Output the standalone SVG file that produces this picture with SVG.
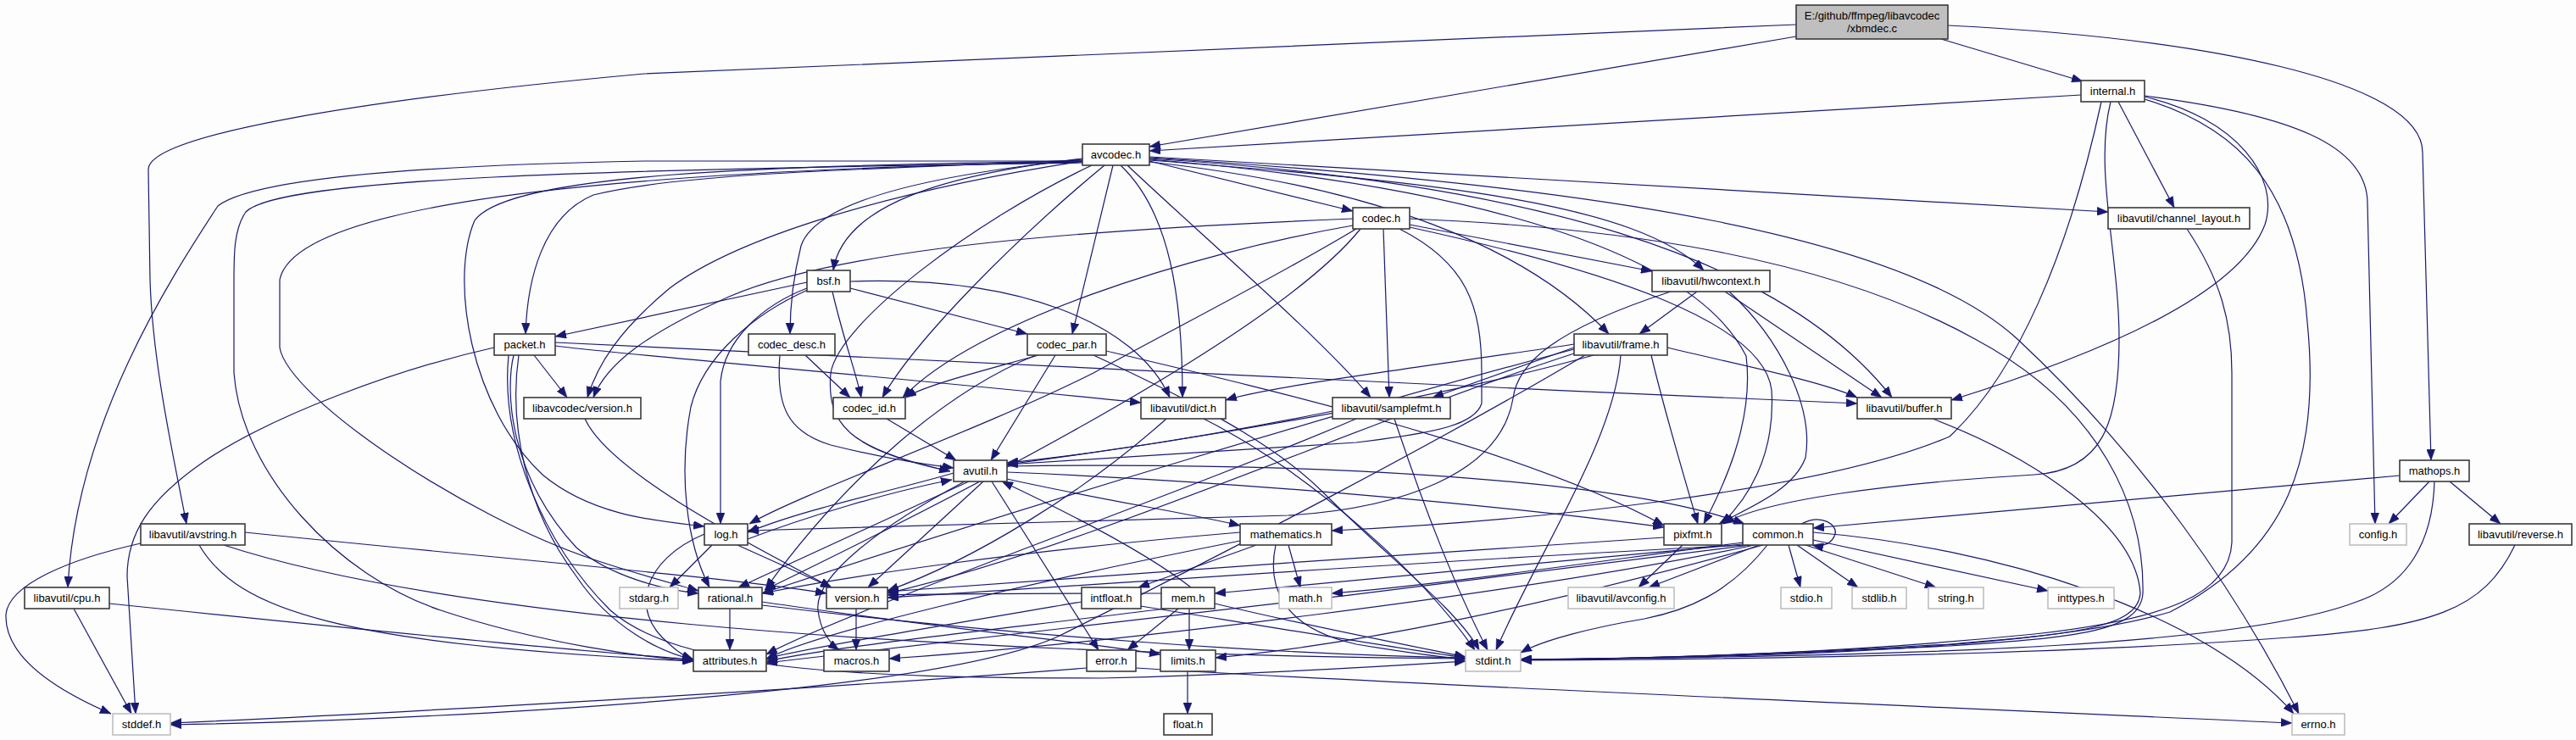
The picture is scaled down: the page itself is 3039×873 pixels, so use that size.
<svg xmlns="http://www.w3.org/2000/svg" width="3039" height="873" viewBox="0 0 3039 873">
<style>
.bg{fill:#fcfdfc}
.n rect{fill:#ffffff;stroke:#3a3a3a;stroke-width:1.6}
.g rect{fill:#ffffff;stroke:#bfbfbf;stroke-width:1.6}
.r rect{fill:#bfbfbf;stroke:#3a3a3a;stroke-width:1.6}
text{font-family:"Liberation Sans",Arial,sans-serif;font-size:13px;fill:#000;text-anchor:middle}
#edges path{fill:none;stroke:#191970;stroke-width:1.2;marker-end:url(#ah)}
</style>
<defs>
<marker id="ah" viewBox="0 0 13 10" refX="13" refY="5" markerWidth="13" markerHeight="10" markerUnits="userSpaceOnUse" orient="auto">
<path d="M0,0 L13,5 L0,10 z" fill="#191970" stroke="#191970" stroke-width="0.5"/>
</marker>
</defs>
<rect class="bg" x="0" y="0" width="3039" height="873"/>
<g id="edges">
<path d="M2119,43 L1356,173"/>
<path d="M2290,46 L2457,96"/>
<path d="M2298,30 C2600,45 2858,95 2858,180 L2868,543"/>
<path d="M2119,29 L760,87 C420,118 175,160 175,200 L177,330 C180,430 205,540 220,618"/>
<path d="M2455,112 L1356,178"/>
<path d="M2499,120 L2565,245"/>
<path d="M2530,113 C2700,135 2793,170 2793,240 L2802,618"/>
<path d="M2530,114 C2640,140 2690,210 2672,265 C2640,350 2470,420 2302,472"/>
<path d="M2530,117 C2640,150 2710,220 2722,380 C2738,540 2700,650 2560,722 C2400,770 2000,777 1794,778"/>
<path d="M2490,120 C2470,200 2500,300 2500,400 C2500,500 2480,555 2400,560 C2230,570 2080,590 2033,618"/>
<path d="M2479,120 C2440,300 2380,440 2300,515 C2150,580 1800,615 1571,626"/>
<path d="M2866,568 L2818,618"/>
<path d="M2890,568 L2950,618"/>
<path d="M2831,561 L2139,623"/>
<path d="M2872,568 C2870,640 2840,690 2780,710 C2650,760 2300,774 1794,778"/>
<path d="M2967,643 C2930,720 2870,740 2700,752 C2400,775 2000,778 1794,779"/>
<path d="M2580,270 C2620,330 2633,380 2633,440 L2633,640 C2630,700 2560,730 2400,748 C2200,768 2000,777 1794,778"/>
<path d="M2280,494 C2400,540 2520,620 2525,700 C2522,740 2450,748 2300,760 C2100,772 1900,778 1794,778"/>
<path d="M2035,344 L2220,469"/>
<path d="M2002,344 L1934,394"/>
<path d="M2040,344 C2100,400 2140,480 2130,540 C2115,580 2060,600 2028,618"/>
<path d="M1971,344 C1830,390 1790,430 1785,470 C1770,560 1650,600 1520,608 L882,626"/>
<path d="M1663,265 L1949,320"/>
<path d="M1632,270 L1639,469"/>
<path d="M1651,270 C1730,310 1748,360 1748,440 L1748,476 C1740,500 1700,510 1600,522 L1188,548"/>
<path d="M1663,258 C1900,268 2150,300 2330,400 C2480,480 2530,600 2528,700 C2525,745 2450,752 2300,762 C2100,772 1900,778 1794,778"/>
<path d="M1356,186 C1900,220 2250,280 2380,400 C2530,540 2640,700 2712,842"/>
<path d="M1596,258 C1300,270 1000,290 860,350 C760,395 715,430 700,469"/>
<path d="M1596,266 C1400,300 1150,380 1065,469"/>
<path d="M1600,270 C1500,330 1380,390 1290,440 C1150,510 950,580 884,618"/>
<path d="M1605,270 C1500,400 1100,600 902,696"/>
<path d="M1663,268 C1900,320 2080,380 2090,460 C2095,540 2060,590 2031,618"/>
<path d="M952,333 L655,397"/>
<path d="M1003,340 L1212,394"/>
<path d="M982,344 C995,400 1010,440 1016,469"/>
<path d="M1003,332 C1200,325 1340,380 1380,469"/>
<path d="M952,340 C900,360 855,400 850,450 L850,618"/>
<path d="M953,342 C890,370 830,420 815,480 C800,560 810,640 837,693"/>
<path d="M630,419 L669,469"/>
<path d="M655,408 C700,415 1000,440 1346,475"/>
<path d="M655,404 C900,420 1600,450 2191,476"/>
<path d="M583,410 C470,435 320,490 240,545 C175,590 150,630 150,680 L160,842"/>
<path d="M606,419 C596,460 600,560 680,646 C720,680 780,695 824,700"/>
<path d="M612,419 C600,500 620,600 680,680 C720,740 780,770 818,778"/>
<path d="M600,419 C590,520 640,640 720,720 C800,790 1000,800 1300,800 C1500,795 1650,785 1729,780"/>
<path d="M950,419 L1003,469"/>
<path d="M920,419 C915,480 930,510 980,525 C1040,540 1090,548 1125,552"/>
<path d="M1225,419 C1150,440 1090,455 1068,469"/>
<path d="M1245,419 L1169,543"/>
<path d="M1222,419 C1120,460 1000,560 903,695"/>
<path d="M1305,414 C1500,460 1800,530 1963,620"/>
<path d="M1290,419 C1400,470 1500,520 1560,580 C1640,660 1720,720 1745,767"/>
<path d="M1356,190 L1596,249"/>
<path d="M1277,187 C1120,205 995,240 983,319"/>
<path d="M1277,188 C1060,210 960,245 945,290 C935,330 932,360 932,394"/>
<path d="M1313,195 L1265,394"/>
<path d="M1277,189 C1000,200 800,205 700,230 C640,255 622,330 620,394"/>
<path d="M1277,190 C1050,225 870,280 790,340 C730,390 705,430 693,469"/>
<path d="M1303,195 C1200,280 1080,400 1041,469"/>
<path d="M1322,195 C1380,250 1395,350 1395,469"/>
<path d="M1330,195 C1420,280 1560,400 1617,469"/>
<path d="M1356,185 L2487,250"/>
<path d="M1356,189 C1700,215 1930,240 2010,319"/>
<path d="M1356,191 C1620,220 1800,290 1898,394"/>
<path d="M1356,187 C1800,215 2100,300 2232,469"/>
<path d="M1356,188 C1750,220 2000,300 2060,420 C2070,500 2030,580 2010,618"/>
<path d="M1288,195 C1150,260 990,380 980,440 C975,500 1000,530 1121,556"/>
<path d="M1277,190 C900,195 600,205 560,260 C530,330 555,480 640,560 C700,610 780,615 831,621"/>
<path d="M1277,191 C800,200 350,230 330,330 L330,410 C340,470 550,610 700,660 C760,680 800,690 824,697"/>
<path d="M1277,192 C700,200 330,210 290,250 C276,270 276,300 276,330 L276,440 C285,560 400,680 520,720 C640,760 760,775 818,780"/>
<path d="M1277,190 L760,190 C500,195 300,210 257,243 C200,330 90,500 80,693"/>
<path d="M1967,410 C2050,430 2150,450 2191,469"/>
<path d="M1857,410 L1690,469"/>
<path d="M1857,406 C1700,430 1500,455 1446,472"/>
<path d="M1880,419 C1700,470 1400,520 1188,548"/>
<path d="M1948,419 C1960,470 1980,540 2003,618"/>
<path d="M1912,419 C1905,520 1810,660 1765,767"/>
<path d="M1870,419 C1700,520 1450,650 1250,750 C1100,820 500,850 201,855"/>
<path d="M1857,412 C1600,480 1200,600 899,700"/>
<path d="M1860,416 C1600,500 1300,640 1047,700"/>
<path d="M1376,494 C1280,580 1150,660 1047,697"/>
<path d="M1420,494 C1550,560 1680,680 1740,767"/>
<path d="M1572,485 C1450,510 1300,535 1188,546"/>
<path d="M1600,494 C1400,580 1000,720 904,772"/>
<path d="M1645,494 C1680,600 1720,700 1755,767"/>
<path d="M1125,558 C1050,580 950,600 882,628"/>
<path d="M1188,565 C1300,590 1400,605 1463,620"/>
<path d="M1188,557 C1500,570 1800,600 1963,622"/>
<path d="M1188,550 C1500,545 1900,560 2058,618"/>
<path d="M1170,568 L1296,767"/>
<path d="M1143,568 L871,693"/>
<path d="M1160,568 L1024,693"/>
<path d="M1138,568 C1040,620 960,680 965,720 C968,745 980,760 990,767"/>
<path d="M840,643 L790,693"/>
<path d="M870,643 L981,693"/>
<path d="M882,636 C950,610 1050,580 1123,566"/>
<path d="M831,630 C760,660 740,720 790,760 C800,770 810,775 818,778"/>
<path d="M1520,643 L1534,693"/>
<path d="M1482,643 L1343,693"/>
<path d="M1463,628 C1200,650 1000,680 899,700"/>
<path d="M1463,638 C1200,690 950,750 904,778"/>
<path d="M1505,643 C1495,690 1510,740 1600,760 C1660,770 1700,775 1729,778"/>
<path d="M1985,643 L1933,693"/>
<path d="M1963,634 C1700,650 1300,680 1047,698"/>
<path d="M2125,618 C2150,605 2168,620 2165,630 C2162,640 2152,646 2138,643"/>
<path d="M2075,643 L1945,693"/>
<path d="M2110,643 L2124,693"/>
<path d="M2120,643 L2192,693"/>
<path d="M2130,643 L2284,693"/>
<path d="M2139,637 L2416,697"/>
<path d="M2139,628 C2350,645 2600,720 2706,842"/>
<path d="M2056,640 C1900,660 1700,690 1571,700"/>
<path d="M2056,642 C1800,665 1550,690 1433,700"/>
<path d="M2060,643 C1700,660 1300,690 1047,705"/>
<path d="M2065,643 C1700,690 1200,750 904,782"/>
<path d="M2070,643 C1800,700 1300,760 1049,777"/>
<path d="M2080,643 C1800,720 1600,760 1434,776"/>
<path d="M2085,643 C2040,700 1990,720 1940,730 C1880,740 1820,755 1794,770"/>
<path d="M1405,693 C1350,650 1250,600 1182,568"/>
<path d="M1390,718 L1330,767"/>
<path d="M1403,718 L1403,767"/>
<path d="M1433,712 C1550,740 1680,765 1729,775"/>
<path d="M1375,718 C1200,740 1000,760 904,780"/>
<path d="M1370,700 C1250,700 1100,700 1047,702"/>
<path d="M861,718 L861,767"/>
<path d="M899,710 C1100,740 1300,760 1369,772"/>
<path d="M899,714 C1200,750 1500,772 1729,776"/>
<path d="M1276,710 C1100,740 950,765 904,777"/>
<path d="M1346,715 C1500,740 1650,765 1729,776"/>
<path d="M1010,718 L1010,767"/>
<path d="M690,494 C720,560 900,650 981,693"/>
<path d="M1282,788 C1000,810 500,840 201,853"/>
<path d="M1340,788 C1600,805 2300,835 2704,853"/>
<path d="M1401,792 L1401,842"/>
<path d="M166,641 C80,660 10,690 7,725 C5,780 80,820 131,842"/>
<path d="M235,643 C280,720 400,760 818,780"/>
<path d="M264,643 C500,720 1000,770 1729,777"/>
<path d="M289,628 C600,660 850,680 975,700"/>
<path d="M87,718 L155,842"/>
<path d="M129,712 C400,740 700,770 818,778"/>
<path d="M1046,494 L1128,543"/>
</g>
<g id="node_xbmdec" class="r"><rect x="2119" y="6" width="179" height="40"/><text x="2208.5" y="23">E:/github/ffmpeg/libavcodec</text><text x="2208.5" y="38">/xbmdec.c</text></g>
<g id="node_internal" class="n"><rect x="2455" y="95" width="75" height="25"/><text x="2492.5" y="112">internal.h</text></g>
<g id="node_avcodec" class="n"><rect x="1277" y="170" width="79" height="25"/><text x="1316.5" y="187">avcodec.h</text></g>
<g id="node_codec" class="n"><rect x="1596" y="245" width="67" height="25"/><text x="1629.5" y="262">codec.h</text></g>
<g id="node_channel_layout" class="n"><rect x="2487" y="245" width="167" height="25"/><text x="2570.5" y="262">libavutil/channel_layout.h</text></g>
<g id="node_bsf" class="n"><rect x="952" y="319" width="51" height="25"/><text x="977.5" y="336">bsf.h</text></g>
<g id="node_hwcontext" class="n"><rect x="1949" y="319" width="139" height="25"/><text x="2018.5" y="336">libavutil/hwcontext.h</text></g>
<g id="node_packet" class="n"><rect x="583" y="394" width="72" height="25"/><text x="619" y="411">packet.h</text></g>
<g id="node_codec_desc" class="n"><rect x="883" y="394" width="102" height="25"/><text x="934" y="411">codec_desc.h</text></g>
<g id="node_codec_par" class="n"><rect x="1212" y="394" width="93" height="25"/><text x="1258.5" y="411">codec_par.h</text></g>
<g id="node_frame" class="n"><rect x="1857" y="394" width="110" height="25"/><text x="1912" y="411">libavutil/frame.h</text></g>
<g id="node_lavc_version" class="n"><rect x="618" y="469" width="138" height="25"/><text x="687" y="486">libavcodec/version.h</text></g>
<g id="node_codec_id" class="n"><rect x="983" y="469" width="85" height="25"/><text x="1025.5" y="486">codec_id.h</text></g>
<g id="node_dict" class="n"><rect x="1346" y="469" width="100" height="25"/><text x="1396" y="486">libavutil/dict.h</text></g>
<g id="node_samplefmt" class="n"><rect x="1572" y="469" width="139" height="25"/><text x="1641.5" y="486">libavutil/samplefmt.h</text></g>
<g id="node_buffer" class="n"><rect x="2191" y="469" width="111" height="25"/><text x="2246.5" y="486">libavutil/buffer.h</text></g>
<g id="node_avutil" class="n"><rect x="1125" y="543" width="63" height="25"/><text x="1156.5" y="560">avutil.h</text></g>
<g id="node_mathops" class="n"><rect x="2831" y="543" width="82" height="25"/><text x="2872" y="560">mathops.h</text></g>
<g id="node_avstring" class="n"><rect x="166" y="618" width="123" height="25"/><text x="227.5" y="635">libavutil/avstring.h</text></g>
<g id="node_log" class="n"><rect x="831" y="618" width="51" height="25"/><text x="856.5" y="635">log.h</text></g>
<g id="node_mathematics" class="n"><rect x="1463" y="618" width="108" height="25"/><text x="1517" y="635">mathematics.h</text></g>
<g id="node_pixfmt" class="n"><rect x="1963" y="618" width="68" height="25"/><text x="1997" y="635">pixfmt.h</text></g>
<g id="node_common" class="n"><rect x="2056" y="618" width="83" height="25"/><text x="2097.5" y="635">common.h</text></g>
<g id="node_config" class="g"><rect x="2772" y="618" width="67" height="25"/><text x="2805.5" y="635">config.h</text></g>
<g id="node_reverse" class="n"><rect x="2913" y="618" width="121" height="25"/><text x="2973.5" y="635">libavutil/reverse.h</text></g>
<g id="node_cpu" class="n"><rect x="29" y="693" width="100" height="25"/><text x="79" y="710">libavutil/cpu.h</text></g>
<g id="node_stdarg" class="g"><rect x="731" y="693" width="69" height="25"/><text x="765.5" y="710">stdarg.h</text></g>
<g id="node_rational" class="n"><rect x="824" y="693" width="75" height="25"/><text x="861.5" y="710">rational.h</text></g>
<g id="node_version" class="n"><rect x="975" y="693" width="72" height="25"/><text x="1011" y="710">version.h</text></g>
<g id="node_intfloat" class="n"><rect x="1276" y="693" width="70" height="25"/><text x="1311" y="710">intfloat.h</text></g>
<g id="node_mem" class="n"><rect x="1370" y="693" width="63" height="25"/><text x="1401.5" y="710">mem.h</text></g>
<g id="node_math" class="g"><rect x="1509" y="693" width="62" height="25"/><text x="1540" y="710">math.h</text></g>
<g id="node_avconfig" class="g"><rect x="1850" y="693" width="125" height="25"/><text x="1912.5" y="710">libavutil/avconfig.h</text></g>
<g id="node_stdio" class="g"><rect x="2101" y="693" width="60" height="25"/><text x="2131" y="710">stdio.h</text></g>
<g id="node_stdlib" class="g"><rect x="2185" y="693" width="64" height="25"/><text x="2217" y="710">stdlib.h</text></g>
<g id="node_string" class="g"><rect x="2275" y="693" width="65" height="25"/><text x="2307.5" y="710">string.h</text></g>
<g id="node_inttypes" class="g"><rect x="2416" y="693" width="78" height="25"/><text x="2455" y="710">inttypes.h</text></g>
<g id="node_attributes" class="n"><rect x="818" y="767" width="86" height="25"/><text x="861" y="784">attributes.h</text></g>
<g id="node_macros" class="n"><rect x="972" y="767" width="77" height="25"/><text x="1010.5" y="784">macros.h</text></g>
<g id="node_error" class="n"><rect x="1282" y="767" width="58" height="25"/><text x="1311" y="784">error.h</text></g>
<g id="node_limits" class="n"><rect x="1369" y="767" width="65" height="25"/><text x="1401.5" y="784">limits.h</text></g>
<g id="node_stdint" class="g"><rect x="1729" y="767" width="65" height="25"/><text x="1761.5" y="784">stdint.h</text></g>
<g id="node_stddef" class="g"><rect x="133" y="842" width="68" height="25"/><text x="167" y="859">stddef.h</text></g>
<g id="node_float" class="n"><rect x="1373" y="842" width="57" height="25"/><text x="1401.5" y="859">float.h</text></g>
<g id="node_errno" class="g"><rect x="2704" y="842" width="62" height="25"/><text x="2735" y="859">errno.h</text></g>
</svg>
